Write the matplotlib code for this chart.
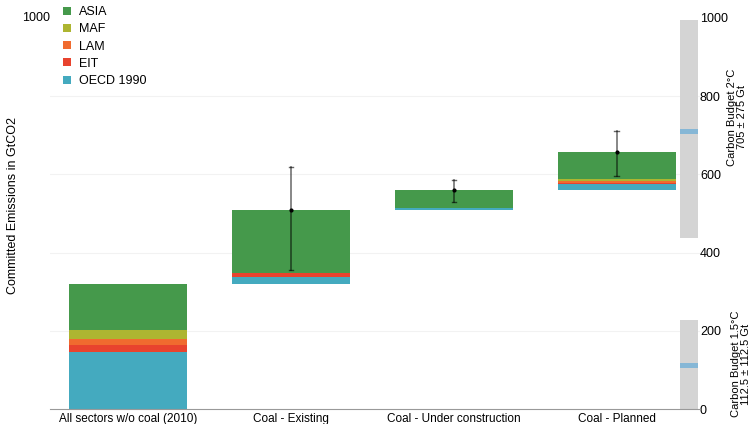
import matplotlib
matplotlib.use('Agg')
import matplotlib.pyplot as plt
import numpy as np

plt.rcParams['font.family'] = ['Liberation Sans', 'DejaVu Sans']

# categories and stacked values (GtCO2)
categories = ['All sectors w/o coal (2010)', 'Coal - Existing',
              'Coal - Under construction', 'Coal - Planned']
regions = ['OECD 1990', 'EIT', 'LAM', 'MAF', 'ASIA']
oecd = [146, 18, 4, 15]
eit = [18, 9, 0, 4]
lam = [15, 1, 0, 4]
maf = [23, 1, 1, 5]
asia = [118, 160, 46, 70]

# error bars on the coal bars (low, high)
err_low = [None, 355, 529, 596]
err_high = [None, 619, 586, 711]

# carbon budgets: (low, central, high)
budget_2c = (437, 710, 995)
budget_15c = (0, 112, 228)

colors = {'ASIA': '#45994b', 'MAF': '#adb531', 'LAM': '#f06b2f',
          'EIT': '#e8432e', 'OECD 1990': '#44aabf'}


def main():
    fig = plt.figure(figsize=(7.53, 4.24), dpi=100)
    ax = fig.add_axes([50 / 753, 15 / 424, 650 / 753, 391 / 424])

    series = {'OECD 1990': oecd, 'EIT': eit, 'LAM': lam, 'MAF': maf, 'ASIA': asia}
    x = np.arange(len(categories))
    width = 0.72

    # waterfall: each bar starts at the top of the previous
    totals = np.sum([series[r] for r in regions], axis=0)
    starts = np.concatenate([[0], np.cumsum(totals)[:-1]])

    bottom = starts.astype(float)
    handles = {}
    for r in regions:
        vals = np.array(series[r], dtype=float)
        handles[r] = ax.bar(x, vals, width, bottom=bottom, color=colors[r],
                            linewidth=0, label=r, zorder=2)
        bottom = bottom + vals

    tops = starts + totals
    for i in range(1, len(categories)):
        ax.plot([x[i], x[i]], [err_low[i], err_high[i]], color='black',
                alpha=0.55, lw=1.2, zorder=3)
        for yy in (err_low[i], err_high[i]):
            ax.plot([x[i] - 0.015, x[i] + 0.015], [yy, yy], color='black',
                    alpha=0.6, lw=1.0, zorder=3)
        ax.plot(x[i], tops[i], marker='o', ms=2, color='black', zorder=4)

    # carbon budget bars
    bx = 3.44
    bw = 0.11
    for lo, mid, hi in (budget_2c, budget_15c):
        ax.bar(bx, hi - lo, bw, bottom=lo, color='#d4d4d4', linewidth=0, zorder=2)
        ax.bar(bx, 12, bw, bottom=mid - 6, color='#86b7d6', linewidth=0, zorder=3)

    ax.set_xlim(-0.479, 3.51)
    ax.set_ylim(0, 1000)
    ax.set_xticks(x)
    ax.set_xticklabels(categories, fontsize=8.5)
    ax.tick_params(axis='x', length=0, pad=3)

    ax.yaxis.tick_right()
    ax.set_yticks([0, 200, 400, 600, 800, 1000])
    ax.tick_params(axis='y', length=0, labelsize=9, pad=0)
    for yy in [200, 400, 600, 800]:
        ax.axhline(yy, color='#f2f2f2', lw=0.8, zorder=1)

    for s in ['top', 'right', 'left']:
        ax.spines[s].set_visible(False)
    ax.spines['bottom'].set_color('#999999')
    ax.spines['bottom'].set_linewidth(0.8)

    fig.text(22 / 753, 1 - 18 / 424, '1000', fontsize=9, va='center', ha='left')
    fig.text(13 / 753, 1 - 205 / 424, 'Committed Emissions in GtCO2', rotation=90,
             fontsize=9, va='center', ha='center')

    fig.text(737 / 753, 1 - 117 / 424, 'Carbon Budget 2°C\n705 ± 275 Gt',
             rotation=90, fontsize=8, va='center', ha='center', linespacing=0.95)
    fig.text(741 / 753, 1 - 364 / 424, 'Carbon Budget 1.5°C\n112.5 ± 112.5 Gt',
             rotation=90, fontsize=8, va='center', ha='center', linespacing=0.95)

    order = ['ASIA', 'MAF', 'LAM', 'EIT', 'OECD 1990']
    ax.legend([handles[r] for r in order], order, loc='upper left',
              bbox_to_anchor=(58 / 753, 1 - 1 / 424), bbox_transform=fig.transFigure,
              frameon=False, fontsize=9, handlelength=0.6, handleheight=0.6,
              handletextpad=0.7, labelspacing=0.42, borderaxespad=0)

    fig.savefig('out.png', dpi=100)


if __name__ == "__main__":
    main()
